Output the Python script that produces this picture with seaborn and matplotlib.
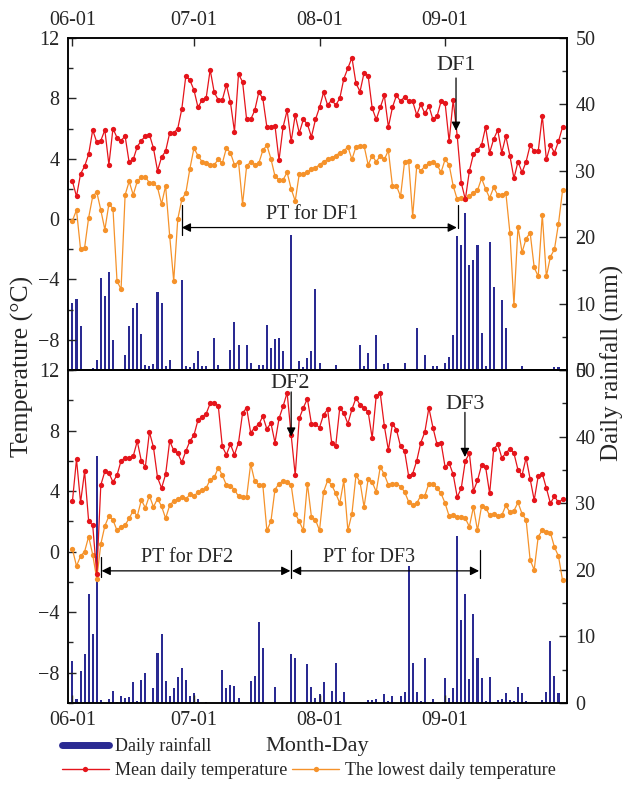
import numpy as np
import matplotlib
matplotlib.use('Agg')
import matplotlib.pyplot as plt
import seaborn as sns
from matplotlib.lines import Line2D
from matplotlib.ticker import MultipleLocator, FixedLocator

# ---------------- data ----------------
month_ticks = [0, 30, 61, 92]
month_labels = ['06-01', '07-01', '08-01', '09-01']
days = np.arange(122)  # 06-01 ... 09-30

top_mean = [2.5, 1.5, 3.0, 3.5, 4.3, 5.9, 5.1, 5.2, 5.9, 3.6,
            6.0, 5.4, 5.2, 5.5, 3.75, 3.95, 4.8, 5.2, 5.5, 5.6,
            4.7, 3.2, 4.1, 4.5, 5.7, 5.7, 6.0, 7.3, 9.5, 9.2,
            8.55, 7.4, 7.9, 8.0, 9.9, 8.4, 7.9, 7.9, 8.9, 7.75,
            5.8, 9.6, 9.1, 6.6, 6.6, 7.2, 8.4, 8.0, 6.1, 6.1,
            6.2, 3.9, 6.1, 7.2, 5.15, 6.9, 5.7, 6.6, 6.3, 5.45,
            6.6, 7.4, 8.4, 7.55, 7.9, 7.55, 8.0, 9.3, 10.0, 10.7,
            9.0, 8.45, 9.7, 9.5, 7.35, 6.6, 7.4, 8.2, 6.1, 7.4,
            8.2, 7.8, 8.1, 7.8, 7.8, 6.9, 7.6, 7.0, 7.5, 6.6,
            6.8, 7.8, 7.7, 5.15, 7.9, 5.5, 2.4, 1.3, 3.2, 4.3,
            4.6, 4.9, 6.1, 4.4, 5.3, 5.9, 4.4, 5.5, 4.2, 2.7,
            3.8, 3.1, 3.8, 4.9, 4.5, 4.5, 6.85, 3.95, 4.9, 4.4,
            5.15, 6.1]

top_low = [-0.1, 0.6, -2.0, -1.9, 0.1, 1.5, 1.8, 0.6, -0.7, 1.0,
           0.7, -4.1, -4.65, 1.6, 2.5, 1.6, 2.5, 2.8, 2.8, 2.4,
           2.4, 2.1, 1.0, 2.2, -1.1, -4.1, 0.0, 1.3, 1.75, 3.35,
           4.7, 4.2, 3.8, 3.7, 3.6, 3.6, 3.95, 3.7, 4.7, 4.4,
           3.6, 3.8, 1.0, 3.5, 3.8, 3.6, 3.7, 4.55, 4.9, 4.0,
           2.85, 2.6, 2.6, 3.1, 2.0, 1.2, 3.0, 3.0, 3.1, 3.3,
           3.4, 3.6, 3.8, 3.95, 4.05, 4.2, 4.4, 4.5, 4.8, 3.95,
           4.8, 4.85, 4.85, 3.6, 4.2, 3.8, 4.2, 3.95, 4.55, 2.2,
           2.2, 1.5, 3.8, 3.85, 0.2, 3.5, 3.2, 3.5, 3.7, 3.8,
           3.6, 3.1, 3.95, 3.6, 2.2, 1.3, 1.4, 1.3, 1.5, 1.75,
           1.9, 2.7, 2.0, 1.4, 2.1, 1.6, 1.6, 1.75, -0.9, -5.7,
           -0.5, -2.2, -1.3, -0.9, -3.2, -3.8, 0.3, -3.8, -2.5, -2.0,
           -0.3, 1.9]

top_rain = [10.1, 10.7, 6.7, 0, 0, 0.3, 1.5, 13.9, 11.1, 14.8,
            4.5, 0, 0, 2.2, 6.7, 9.3, 10.1, 5.4, 0.8, 0.6,
            0.9, 11.8, 10.1, 0.6, 1.5, 0, 0, 13.6, 0.6, 0.4,
            1.0, 2.8, 0.6, 0.6, 0, 4.8, 0.8, 0.2, 0, 3.0,
            7.2, 3.8, 0, 3.8, 1.0, 0, 0.8, 0.8, 6.8, 3.3,
            4.7, 4.8, 2.8, 0, 20.3, 0, 1.35, 0.4, 1.8, 2.9,
            12.2, 1.0, 0, 0, 0, 0.7, 0, 0, 0.2, 0,
            0, 3.7, 0.6, 2.5, 0, 5.2, 0.2, 0.9, 1.0, 0,
            0, 0, 1.0, 0, 0, 6.3, 0, 2.2, 0, 0.6,
            0.6, 0, 1.0, 2.0, 5.2, 20.2, 18.8, 23.7, 15.8, 16.6,
            18.8, 5.5, 0.6, 19.3, 12.5, 0.2, 10.6, 6.3, 0, 0,
            0, 0.6, 0.2, 0, 0, 0, 0, 0, 0, 0.4,
            0.5, 0]

bot_mean = [3.35, 6.1, 3.25, 5.3, 2.0, 1.75, -1.5, 4.4, 5.3, 5.2,
            4.6, 5.05, 6.0, 6.2, 6.2, 6.3, 7.3, 6.0, 5.6, 7.9,
            6.9, 4.9, 4.2, 5.1, 7.3, 6.7, 6.5, 5.9, 6.65, 7.3,
            7.7, 8.7, 8.9, 9.1, 9.8, 9.8, 9.65, 6.95, 6.4, 7.1,
            6.4, 7.2, 9.15, 9.5, 7.85, 8.2, 8.4, 8.95, 8.1, 8.5,
            7.2, 8.8, 9.6, 10.5, 7.7, 5.05, 8.8, 9.5, 10.1, 8.45,
            8.4, 8.2, 9.05, 9.4, 7.2, 7.0, 9.5, 9.15, 8.45, 9.4,
            10.15, 9.7, 9.5, 9.25, 7.5, 10.3, 10.45, 8.3, 6.7, 8.45,
            8.05, 6.95, 6.65, 5.0, 5.15, 6.0, 7.2, 7.9, 9.5, 8.2,
            7.1, 7.2, 5.6, 5.85, 5.1, 3.6, 4.2, 6.0, 6.5, 4.0,
            4.7, 5.7, 5.6, 3.85, 6.75, 7.1, 6.2, 6.5, 6.8, 6.5,
            5.4, 5.05, 6.2, 4.8, 3.4, 5.0, 5.15, 4.2, 3.2, 3.65,
            3.25, 3.45]

bot_low = [0.15, -0.95, -0.3, 0.0, 1.0, -0.2, -1.8, 0.5, 1.7, 2.35,
           2.1, 1.4, 1.65, 1.75, 2.2, 2.7, 2.35, 3.4, 2.9, 3.7,
           2.95, 3.5, 3.0, 2.2, 3.05, 3.35, 3.45, 3.6, 3.45, 3.8,
           3.65, 3.95, 4.05, 4.2, 4.75, 4.9, 5.55, 5.05, 4.4, 4.35,
           4.1, 3.65, 3.6, 3.6, 5.8, 4.65, 4.4, 4.4, 1.4, 2.0,
           4.1, 4.5, 4.65, 4.6, 4.4, 2.5, 2.0, 1.4, 4.5, 2.3,
           2.1, 1.4, 3.95, 4.7, 4.4, 3.85, 3.2, 4.7, 1.4, 2.5,
           5.05, 4.6, 2.95, 4.8, 4.6, 3.95, 5.6, 5.1, 4.4, 4.5,
           4.5, 4.3, 3.95, 3.3, 3.05, 3.2, 3.7, 3.7, 4.5, 4.5,
           4.2, 3.85, 3.2, 2.35, 2.4, 2.3, 2.3, 2.2, 1.65, 2.95,
           1.4, 3.0, 2.9, 2.4, 2.5, 2.35, 2.4, 3.05, 2.6, 2.7,
           3.25, 2.5, 2.1, -0.55, -1.2, 1.0, 1.4, 1.3, 1.25, 0.3,
           -0.3, -1.9]

bot_rain = [6.3, 0.55, 4.8, 7.4, 16.3, 10.4, 37.1, 0.5, 0, 0.55,
            1.8, 0.1, 1.1, 0.75, 0.85, 3.2, 0.25, 3.4, 4.5, 0.1,
            2.3, 7.5, 10.4, 3.3, 1.1, 2.3, 3.9, 5.3, 3.4, 1.1,
            1.45, 0.55, 0, 0.1, 0, 0, 0, 5.0, 2.2, 2.7,
            2.55, 0.75, 0, 0, 3.3, 4.1, 12.1, 8.2, 0, 0,
            2.45, 0, 0, 0, 7.4, 6.8, 0, 0, 5.9, 2.45,
            0.75, 1.35, 3.2, 0, 1.8, 6.0, 0.25, 1.7, 0, 0,
            0, 0, 0, 0.5, 0.5, 0.55, 0, 1.35, 0.35, 1.0,
            0, 1.0, 1.7, 20.6, 6.0, 1.6, 0.25, 6.8, 0, 0.55,
            0, 0, 3.8, 0.75, 2.2, 25.1, 12.5, 16.4, 3.6, 13.3,
            6.7, 3.8, 0.35, 3.9, 0.1, 0.5, 0.6, 1.5, 0.4, 0.25,
            2.45, 1.5, 0.25, 0, 0, 0, 0.5, 1.65, 9.25, 4.1,
            1.5, 0]

# annotation anchors (day, temperature)
df1_day, df1_text_y, df1_tail_y, df1_tip_y = 94.7, 10.2, 9.35, 5.85
pt1_start, pt1_end, pt1_y = 27.0, 94.9, -0.56
df2_day, df2_text_y, df2_tail_y, df2_tip_y = 54.0, 11.08, 10.55, 7.6
df3_day, df3_text_y, df3_tail_y, df3_tip_y = 96.9, 9.75, 9.2, 6.25
pt2_start, pt2_end, pt3_end, pt23_y = 7.0, 54.0, 100.6, -1.27

# ---------------- style ----------------
sns.set_style('ticks')
plt.rcParams['font.family'] = ['Liberation Serif', 'DejaVu Serif']
plt.rcParams['axes.linewidth'] = 1.1

RED = '#e5141b'
ORANGE = '#f5922a'
NAVY = '#2a2a92'
TICK_FS = 14.5

fig = plt.figure(figsize=(6.26, 7.85), dpi=100)
ax1 = fig.add_axes([68 / 626, 1 - 370 / 785, 499 / 626, 332 / 785])
ax2 = fig.add_axes([68 / 626, 1 - 703 / 785, 499 / 626, 333 / 785])


def panel(ax, mean, low, rain, top):
    axr = ax.twinx()
    sns.barplot(x=days, y=rain, ax=axr, native_scale=True, width=0.5,
                color=NAVY, saturation=1, errorbar=None, linewidth=0)
    sns.lineplot(x=days, y=low, ax=ax, color=ORANGE, lw=0.9, marker='o',
                 markersize=3.8, markeredgewidth=0, legend=False)
    sns.lineplot(x=days, y=mean, ax=ax, color=RED, lw=0.9, marker='o',
                 markersize=3.8, markeredgewidth=0, legend=False)
    ax.set_zorder(axr.get_zorder() + 1)
    ax.patch.set_visible(False)
    ax.set_xlim(-1.1, 122.1)
    ax.set_ylim(-10, 12)
    axr.set_ylim(0, 50)
    ax.set_xlabel('')
    ax.set_ylabel('')
    axr.set_xlabel('')
    axr.set_ylabel('')
    ax.yaxis.set_major_locator(FixedLocator([-8, -4, 0, 4, 8, 12]))
    ax.yaxis.set_minor_locator(MultipleLocator(2))
    axr.yaxis.set_major_locator(MultipleLocator(10))
    axr.yaxis.set_minor_locator(MultipleLocator(5))
    ax.set_xticks(month_ticks)
    ax.set_xticklabels(month_labels)
    for a in (ax, axr):
        a.tick_params(which='both', direction='in', width=1.0,
                      labelsize=TICK_FS, pad=6)
        a.tick_params(which='major', length=6)
        a.tick_params(which='minor', length=3.5)
        for s in a.spines.values():
            s.set_visible(True)
            s.set_linewidth(1.1)
            s.set_color('black')
    if top:
        ax.tick_params(axis='x', top=True, labeltop=True,
                       bottom=False, labelbottom=False)
    else:
        ax.tick_params(axis='x', top=False, labeltop=False,
                       bottom=True, labelbottom=True)
    axr.tick_params(axis='x', top=False, bottom=False,
                    labeltop=False, labelbottom=False)
    ax.tick_params(axis='y', left=True, right=False)
    axr.tick_params(axis='y', right=True, left=False)
    return axr


axr1 = panel(ax1, top_mean, top_low, top_rain, True)
axr2 = panel(ax2, bot_mean, bot_low, bot_rain, False)

arrow_kw = dict(color='black', lw=0.9, shrinkA=0, shrinkB=0, mutation_scale=13)

# top panel annotations
ax1.text(df1_day, df1_text_y, 'DF1', ha='center', va='center', fontsize=16)
ax1.annotate('', xy=(df1_day, df1_tip_y), xytext=(df1_day, df1_tail_y),
             arrowprops=dict(arrowstyle='-|>', **arrow_kw))
ax1.annotate('', xy=(pt1_end, pt1_y), xytext=(pt1_start, pt1_y),
             arrowprops=dict(arrowstyle='<|-|>', **arrow_kw))
ax1.plot([pt1_start, pt1_start], [0.95, -1.05], color='black', lw=0.9)
ax1.plot([pt1_end + 0.4, pt1_end + 0.4], [0.95, pt1_y], color='black', lw=0.9)
ax1.text((pt1_start + pt1_end) / 2 - 1.8, pt1_y + 0.25, 'PT for DF1',
         ha='center', va='bottom', fontsize=14.5)

# bottom panel annotations
ax2.text(df2_day - 0.2, df2_text_y, 'DF2', ha='center', va='center', fontsize=16)
ax2.annotate('', xy=(df2_day, df2_tip_y), xytext=(df2_day, df2_tail_y),
             arrowprops=dict(arrowstyle='-|>', **arrow_kw))
ax2.text(df3_day, df3_text_y, 'DF3', ha='center', va='center', fontsize=16)
ax2.annotate('', xy=(df3_day, df3_tip_y), xytext=(df3_day, df3_tail_y),
             arrowprops=dict(arrowstyle='-|>', **arrow_kw))
ax2.annotate('', xy=(pt2_end - 0.2, pt23_y), xytext=(pt2_start + 0.2, pt23_y),
             arrowprops=dict(arrowstyle='<|-|>', **arrow_kw))
ax2.annotate('', xy=(pt3_end - 0.2, pt23_y), xytext=(pt2_end + 0.2, pt23_y),
             arrowprops=dict(arrowstyle='<|-|>', **arrow_kw))
ax2.plot([pt2_start, pt2_start], [-0.33, -1.65], color='black', lw=0.9)
ax2.plot([pt2_end, pt2_end], [0.11, -1.74], color='black', lw=0.9)
ax2.plot([pt3_end, pt3_end], [0.11, -1.74], color='black', lw=0.9)
ax2.text(28.4, pt23_y + 0.25, 'PT for DF2', ha='center', va='bottom', fontsize=14.5)
ax2.text(73.2, pt23_y + 0.25, 'PT for DF3', ha='center', va='bottom', fontsize=14.5)

# axis titles
fig.text(22 / 626, 1 - 366 / 785, 'Temperature (°C)', rotation=90,
         ha='center', va='center', fontsize=18.5)
fig.text(612 / 626, 1 - 363 / 785, 'Daily rainfall (mm)', rotation=90,
         ha='center', va='center', fontsize=18)
fig.text(317 / 626, 1 - 747 / 785, 'Month-Day', ha='center', va='center',
         fontsize=16)

# legend
h_rain = Line2D([], [], color=NAVY, lw=5)
h_mean = Line2D([], [], color=RED, lw=1, marker='o', markersize=3.8, markeredgewidth=0)
h_low = Line2D([], [], color=ORANGE, lw=1, marker='o', markersize=3.8, markeredgewidth=0)
h_blank = Line2D([], [], color='none')
fig.legend([h_rain, h_mean, h_blank, h_low],
           ['Daily rainfall', 'Mean daily temperature', '', 'The lowest daily temperature'],
           ncol=2, loc='upper left', bbox_to_anchor=(62 / 626, 1 - 737 / 785),
           frameon=False, fontsize=13, handlelength=2.6, handletextpad=0.35,
           columnspacing=0.25, labelspacing=0.4, borderpad=0, borderaxespad=0)

fig.savefig('out.png', dpi=100)
